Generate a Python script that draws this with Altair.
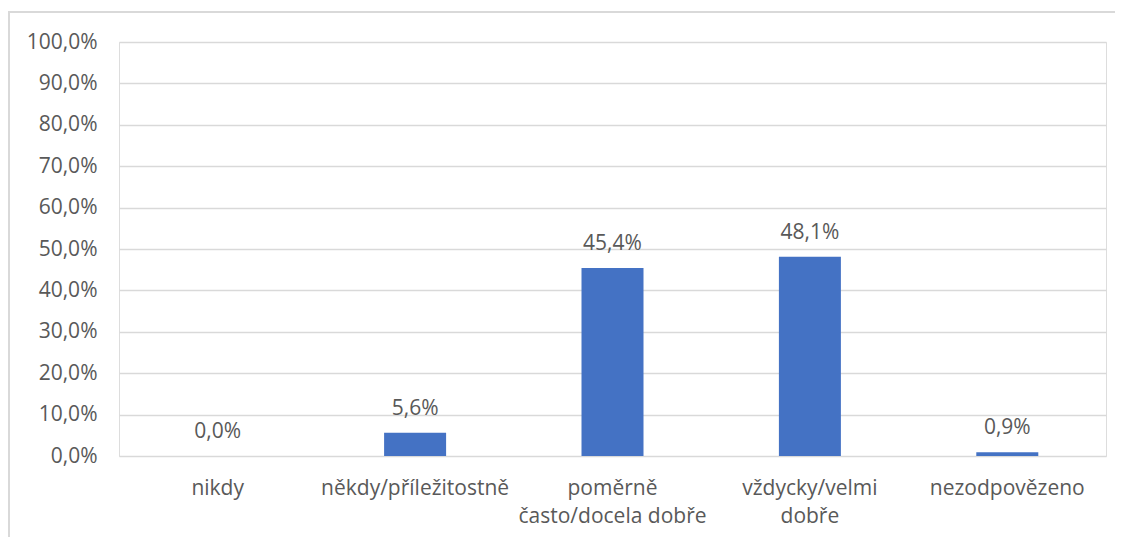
import altair as alt
import pandas as pd

categories = ["nikdy", "někdy/příležitostně", "poměrně|často/docela dobře", "vždycky/velmi|dobře", "nezodpovězeno"]
values = [0.0, 5.6, 45.4, 48.1, 0.9]
y_ticks = [0, 10, 20, 30, 40, 50, 60, 70, 80, 90, 100]

df = pd.DataFrame({"cat": categories, "val": values})
df["lab"] = [f"{v:.1f}%".replace(".", ",") for v in values]

FONT = "Open Sans"
GREY = "#595959"
FS = 21

x = alt.X("cat:N", sort=categories, title=None,
          scale=alt.Scale(paddingInner=0.0, paddingOuter=0.0),
          axis=alt.Axis(labelAngle=0, labelExpr="split(datum.label, '|')",
                        labelFont=FONT, labelFontSize=FS, labelColor=GREY, labelLimit=400,
                        labelPadding=21, labelLineHeight=28, ticks=False, domain=False,
                        labelBaseline="top"))
y = alt.Y("val:Q", title=None,
          scale=alt.Scale(domain=[0, 100], nice=False),
          axis=alt.Axis(values=y_ticks, labelExpr="replace(format(datum.value, '.1f'), '.', ',') + '%'",
                        labelFont=FONT, labelFontSize=FS, labelColor=GREY, labelPadding=22,
                        ticks=False, domain=False, gridColor="#d9d9d9", gridWidth=1.5))

bars = alt.Chart(df).mark_bar(color="#4472C4", size=62).encode(x=x, y=y)
text = alt.Chart(df).mark_text(font=FONT, fontSize=FS, color=GREY, baseline="bottom", dy=-14).encode(
    x=alt.X("cat:N", sort=categories), y="val:Q", text="lab:N")

frame = pd.DataFrame({"a": [0]})
top_line = alt.Chart(frame).mark_rule(color="#d9d9d9", strokeWidth=2).encode(
    x=alt.value(-111), x2=alt.value(1000), y=alt.value(-30))
left_line = alt.Chart(frame).mark_rule(color="#d9d9d9", strokeWidth=2).encode(
    x=alt.value(-110), y=alt.value(-31), y2=alt.value(600))

chart = alt.layer(top_line, left_line, bars, text).properties(
    width=987, height=414,
    autosize=alt.AutoSizeParams(type="none"),
    padding={"left": 111, "top": 34, "right": 9, "bottom": 81},
).configure_view(stroke=None).configure(background="white")

chart.save("out.html", embed_options={"renderer": "svg", "actions": False})
